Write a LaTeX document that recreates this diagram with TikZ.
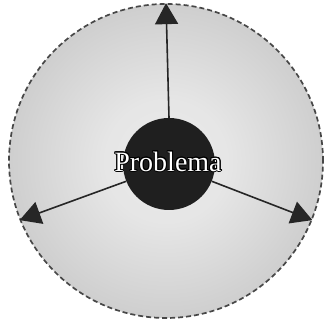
\documentclass[tikz,border=0pt]{standalone}
\usepackage{fontspec}
\setmainfont{Liberation Serif}
\usepackage[copies]{contour}
\usetikzlibrary{arrows.meta}
\contourlength{0.9pt}
\pgfdeclareradialshading{glow}{\pgfpoint{0bp}{0bp}}{%
  color(0bp)=(black!8); color(10bp)=(black!10); color(50bp)=(black!34)}
\begin{document}
\begin{tikzpicture}[x=1pt, y=1pt,
    zone/.style={circle, draw=black!72, dash pattern=on 5pt off 3pt, line width=1.7pt,
      shading=glow, minimum size=314pt, inner sep=0pt},
    core/.style={circle, fill=black!88, minimum size=92pt, inner sep=0pt},
    ray/.style={-{Triangle[width=23pt,length=21pt]}, line width=1.6pt, black!85}]
    \useasboundingbox (0,0) rectangle (330,320);
    \node[zone] (zone) at (166,159) {};
    \node[core] (core) at (169,156) {};
    % three directions out of the problem
    \foreach \a in {90,202,-22}
        \draw[ray] (core.\a) -- (zone.\a);
    \node[white, font=\fontsize{28}{30}\selectfont] (label) at (168,158) {\contour{black}{Problema}};
\end{tikzpicture}
\end{document}
